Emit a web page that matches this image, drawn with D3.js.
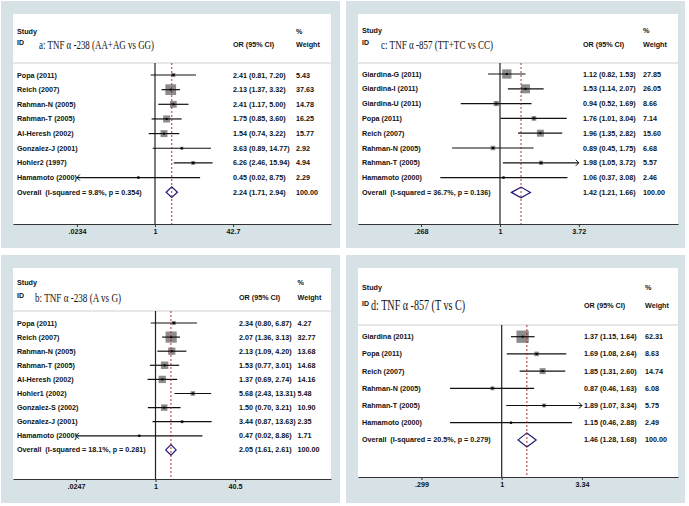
<!DOCTYPE html>
<html><head><meta charset="utf-8">
<script src="https://cdn.jsdelivr.net/npm/d3@7"></script>
<style>
body{margin:0;background:#fff}
svg{display:block}
text{font-family:"Liberation Sans",Arial,sans-serif}
</style>
</head><body>
<svg id="chart" width="689" height="506"></svg>
<script>
// ---------- data ----------
const titleA = "a: TNF α -238 (AA+AG vs GG)";
const studiesA = ["Popa (2011)","Reich (2007)","Rahman-N (2005)","Rahman-T (2005)","Al-Heresh (2002)","Gonzalez-J (2001)","Hohler2 (1997)","Hamamoto (2000)"];
const orA   = [2.41, 2.13, 2.41, 1.75, 1.54, 3.63, 6.26, 0.45];
const lowA  = [0.81, 1.37, 1.17, 0.85, 0.74, 0.89, 2.46, 0.02];
const highA = [7.20, 3.32, 5.00, 3.60, 3.22, 14.77, 15.94, 8.75];
const weightA = [5.43, 37.63, 14.78, 16.25, 15.77, 2.92, 4.94, 2.29];
const overallA = {label:"Overall  (I-squared = 9.8%, p = 0.354)", or:2.24, low:1.71, high:2.94, weight:100.00};
const ticksA = [0.0234, 1, 42.7];
const tickLabelsA = [".0234", "1", "42.7"];

const titleB = "b: TNF α -238 (A vs G)";
const studiesB = ["Popa (2011)","Reich (2007)","Rahman-N (2005)","Rahman-T (2005)","Al-Heresh (2002)","Hohler1 (2002)","Gonzalez-S (2002)","Gonzalez-J (2001)","Hamamoto (2000)"];
const orB   = [2.34, 2.07, 2.13, 1.53, 1.37, 5.68, 1.50, 3.44, 0.47];
const lowB  = [0.80, 1.36, 1.09, 0.77, 0.69, 2.43, 0.70, 0.87, 0.02];
const highB = [6.87, 3.13, 4.20, 3.01, 2.74, 13.31, 3.21, 13.63, 8.86];
const weightB = [4.27, 32.77, 13.68, 14.68, 14.16, 5.48, 10.90, 2.35, 1.71];
const overallB = {label:"Overall  (I-squared = 18.1%, p = 0.281)", or:2.05, low:1.61, high:2.61, weight:100.00};
const ticksB = [0.0247, 1, 40.5];
const tickLabelsB = [".0247", "1", "40.5"];

const titleC = "c: TNF α -857 (TT+TC vs CC)";
const studiesC = ["Giardina-G (2011)","Giardina-I (2011)","Giardina-U (2011)","Popa (2011)","Reich (2007)","Rahman-N (2005)","Rahman-T (2005)","Hamamoto (2000)"];
const orC   = [1.12, 1.53, 0.94, 1.76, 1.96, 0.89, 1.98, 1.06];
const lowC  = [0.82, 1.14, 0.52, 1.01, 1.35, 0.45, 1.05, 0.37];
const highC = [1.53, 2.07, 1.69, 3.04, 2.82, 1.75, 3.72, 3.08];
const weightC = [27.85, 26.05, 8.66, 7.14, 15.60, 6.68, 5.57, 2.46];
const overallC = {label:"Overall  (I-squared = 36.7%, p = 0.136)", or:1.42, low:1.21, high:1.66, weight:100.00};
const ticksC = [0.268, 1, 3.72];
const tickLabelsC = [".268", "1", "3.72"];

const titleD = "d: TNF α -857 (T vs C)";
const studiesD = ["Giardina (2011)","Popa (2011)","Reich (2007)","Rahman-N (2005)","Rahman-T (2005)","Hamamoto (2000)"];
const orD   = [1.37, 1.69, 1.85, 0.87, 1.89, 1.15];
const lowD  = [1.15, 1.08, 1.31, 0.46, 1.07, 0.46];
const highD = [1.64, 2.64, 2.60, 1.63, 3.34, 2.88];
const weightD = [62.31, 8.63, 14.74, 6.08, 5.75, 2.49];
const overallD = {label:"Overall  (I-squared = 20.5%, p = 0.279)", or:1.46, low:1.28, high:1.68, weight:100.00};
const ticksD = [0.299, 1, 3.34];
const tickLabelsD = [".299", "1", "3.34"];

// ---------- layout ----------
const panels = [
  {title:titleA, studies:studiesA, or:orA, low:lowA, high:highA, w:weightA, overall:overallA, ticks:ticksA, tickLabels:tickLabelsA,
   outer:[1,1,339,247], inner:[13,14,331,224], nullX:155, k:20.8, y0:75, dy:14.65, sepY:63,
   studyX:17, orX:233, wX:296, hdr1:31, hdr2:44, idX:17, tX:39, tEnd:154, tSize:13.5, kb:1.75, dh:5.3},
  {title:titleB, studies:studiesB, or:orB, low:lowB, high:highB, w:weightB, overall:overallB, ticks:ticksB, tickLabels:tickLabelsB,
   outer:[1,255,339,248], inner:[13,268,331,479], nullX:155.5, k:21.5, y0:323, dy:14.1, sepY:311,
   studyX:17, orX:239, wX:297.5, hdr1:282, hdr2:297, idX:17, tX:35, tEnd:121, tSize:13, kb:1.95, dh:5.3},
  {title:titleC, studies:studiesC, or:orC, low:lowC, high:highC, w:weightC, overall:overallC, ticks:ticksC, tickLabels:tickLabelsC,
   outer:[346,1,339,247], inner:[358,14,678,224], nullX:500, k:60, y0:74, dy:14.8, sepY:63,
   studyX:362, orX:583, wX:643, hdr1:30, hdr2:44, idX:362, tX:381, tEnd:493, tSize:13.5, kb:1.76, dh:5.3},
  {title:titleD, studies:studiesD, or:orD, low:lowD, high:highD, w:weightD, overall:overallD, ticks:ticksD, tickLabels:tickLabelsD,
   outer:[346,255,339,248], inner:[358,268,678,477], nullX:501.7, k:66.5, y0:336.7, dy:17.2, sepY:325,
   studyX:362, orX:584, wX:645, hdr1:287, hdr2:305, idX:362, tX:371, tEnd:465, tSize:14, kb:1.56, dh:7}
];

const svg = d3.select("#chart");
const BG = "#d6e2e6";
const fmt = d3.format(".2f");
const FS = 7.2;

function txt(g, x, y, s, opts={}) {
  return g.append("text").attr("x", x).attr("y", y).attr("dy", "0.35em")
    .attr("font-size", opts.size || FS).attr("font-weight", opts.weight || "bold")
    .attr("fill", "#111").attr("text-anchor", opts.anchor || "start")
    .style("white-space", "pre").text(s);
}

panels.forEach(p => {
  const g = svg.append("g");
  const [ix0, iy0, ix1, iy1] = p.inner;
  g.append("rect").attr("x", p.outer[0]).attr("y", p.outer[1]).attr("width", p.outer[2]).attr("height", p.outer[3]).attr("fill", BG);
  g.append("rect").attr("x", ix0).attr("y", iy0).attr("width", ix1 - ix0).attr("height", iy1 - iy0).attr("fill", "#fff");

  // log scale spanning the whole plot width
  const x = d3.scaleLog()
    .domain([Math.exp((ix0 - p.nullX) / p.k), Math.exp((ix1 - p.nullX) / p.k)])
    .range([ix0, ix1]);
  const tMin = p.ticks[0], tMax = p.ticks[p.ticks.length - 1];
  const rowY = i => p.y0 + i * p.dy;

  // header
  g.append("line").attr("x1", ix0).attr("x2", ix1).attr("y1", p.sepY).attr("y2", p.sepY)
    .attr("stroke", "#c4c4c4").attr("stroke-width", 0.8);
  txt(g, p.studyX, p.hdr1, "Study");
  txt(g, p.wX, p.hdr1, "%");
  txt(g, p.orX, p.hdr2, "OR (95% CI)");
  txt(g, p.wX, p.hdr2, "Weight");
  txt(g, p.idX, p.hdr2 - 1.5, "ID", {size: 7});
  g.append("text").attr("x", p.tX).attr("y", p.hdr2).attr("dy", "0.35em")
    .attr("font-size", p.tSize).attr("fill", "#111")
    .style("font-family", '"Liberation Serif","Times New Roman",serif')
    .attr("textLength", p.tEnd - p.tX).attr("lengthAdjust", "spacingAndGlyphs")
    .text(p.title);

  // null line
  g.append("line").attr("x1", x(1)).attr("x2", x(1)).attr("y1", p.sepY).attr("y2", iy1)
    .attr("stroke", "#222").attr("stroke-width", 1.2);

  // studies
  p.studies.forEach((s, i) => {
    const y = rowY(i);
    txt(g, p.studyX, y, s);
    txt(g, p.orX, y, `${fmt(p.or[i])} (${fmt(p.low[i])}, ${fmt(p.high[i])})`);
    txt(g, p.wX, y, fmt(p.w[i]));
    const side = p.kb * Math.sqrt(p.w[i]);
    g.append("rect").attr("x", x(p.or[i]) - side / 2).attr("y", y - side / 2)
      .attr("width", side).attr("height", side).attr("fill", "#8c8c8c");
    const lo = Math.max(p.low[i], tMin), hi = Math.min(p.high[i], tMax);
    g.append("line").attr("x1", x(lo)).attr("x2", x(hi)).attr("y1", y).attr("y2", y)
      .attr("stroke", "#111").attr("stroke-width", 1.2);
    if (p.low[i] <= tMin) {
      const ax = x(tMin);
      g.append("path").attr("d", `M${ax + 3},${y - 3}L${ax},${y}L${ax + 3},${y + 3}`)
        .attr("fill", "none").attr("stroke", "#111").attr("stroke-width", 1);
    }
    if (p.high[i] >= tMax) {
      const ax = x(tMax);
      g.append("path").attr("d", `M${ax - 3},${y - 3}L${ax},${y}L${ax - 3},${y + 3}`)
        .attr("fill", "none").attr("stroke", "#111").attr("stroke-width", 1);
    }
    g.append("rect").attr("x", x(p.or[i]) - 1).attr("y", y - 1).attr("width", 2).attr("height", 2).attr("fill", "#000");
  });

  // overall
  const oi = p.studies.length, oy = rowY(oi), o = p.overall;
  txt(g, p.studyX, oy, o.label);
  txt(g, p.orX, oy, `${fmt(o.or)} (${fmt(o.low)}, ${fmt(o.high)})`);
  txt(g, p.wX, oy, fmt(o.weight));
  g.append("path")
    .attr("d", `M${x(o.low)},${oy}L${x(o.or)},${oy - p.dh}L${x(o.high)},${oy}L${x(o.or)},${oy + p.dh}Z`)
    .attr("fill", "none").attr("stroke", "#1c1c78").attr("stroke-width", 1.2);
  g.append("line").attr("x1", x(o.or)).attr("x2", x(o.or)).attr("y1", p.sepY).attr("y2", iy1)
    .attr("stroke", "#b01818").attr("stroke-width", 0.9).attr("stroke-dasharray", "2,2");

  // axis
  const axis = d3.axisBottom(x).tickValues(p.ticks)
    .tickFormat((d, i) => p.tickLabels[i]).tickSize(3).tickSizeOuter(0).tickPadding(2);
  const ag = g.append("g").attr("transform", `translate(0,${iy1})`).call(axis);
  ag.select(".domain").attr("stroke", "#333").attr("stroke-width", 1.2);
  ag.selectAll(".tick line").attr("stroke", "#333");
  ag.selectAll(".tick text").attr("font-size", FS).attr("font-weight", "bold")
    .attr("font-family", '"Liberation Sans",Arial,sans-serif').attr("fill", "#111");
});
</script>
</body></html>
